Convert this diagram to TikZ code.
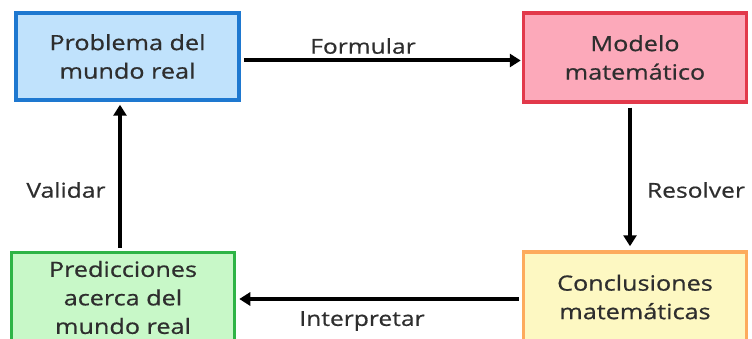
\documentclass[tikz,border=0pt]{standalone}
\usepackage{fontspec}
\setmainfont[FakeStretch=1.2,FakeBold=0.6]{Open Sans}
\usetikzlibrary{arrows.meta}

\definecolor{azulborde}{HTML}{1E78D0}
\definecolor{azulfondo}{HTML}{C0E2FC}
\definecolor{rojoborde}{HTML}{E2394B}
\definecolor{rojofondo}{HTML}{FCA9BA}
\definecolor{verdeborde}{HTML}{2EB446}
\definecolor{verdefondo}{HTML}{C8F8C8}
\definecolor{naranjaborde}{HTML}{FDAB5D}
\definecolor{amarillofondo}{HTML}{FDF8C2}
\definecolor{gristexto}{HTML}{2E2E2E}

\tikzset{
	caja/.style={draw, line width=3.5pt, minimum width=223pt, inner sep=0pt,
		align=center, text=gristexto, font=\fontsize{21}{28.5}\selectfont},
	flecha/.style={line width=4pt, -{Triangle[length=11pt,width=13pt]}},
	etiqueta/.style={text=gristexto, font=\fontsize{20.5}{24}\selectfont}
}

\begin{document}
\begin{tikzpicture}[x=1pt,y=-1pt]
\useasboundingbox (0,0) rectangle (752,339);

\node[caja, fill=azulfondo, draw=azulborde, minimum height=87pt] (problema) at (127.5,56.5) {Problema del\\mundo real};
\node[caja, fill=rojofondo, draw=rojoborde, minimum height=89pt] (modelo) at (635,57.5) {Modelo\\matemático};
\node[caja, fill=verdefondo, draw=verdeborde, minimum height=90pt] (predicciones) at (123,297.5) {Predicciones\\acerca del\\mundo real};
\node[caja, fill=amarillofondo, draw=naranjaborde, minimum height=90pt] (conclusiones) at (635,297) {Conclusiones\\matemáticas};

% ciclo
\draw[flecha, shorten <=3pt, shorten >=1pt] ([yshift=-4pt]problema.east) -- ([yshift=-4pt]problema.east -| modelo.west);
\draw[flecha, shorten <=4pt, shorten >=4pt] ([xshift=-5pt]modelo.south) -- ([xshift=-5pt]modelo.south |- conclusiones.north);
\draw[flecha, shorten <=3pt, shorten >=3pt] ([yshift=-2pt]conclusiones.west) -- ([yshift=-2pt]conclusiones.west -| predicciones.east);
\draw[flecha, shorten <=3pt, shorten >=3pt] ([xshift=-3pt]predicciones.north) -- ([xshift=-3pt]predicciones.north |- problema.south);

\node[etiqueta] (formular) at (363,46) {Formular};
\node[etiqueta] (resolver) at (696,190) {Resolver};
\node[etiqueta] (interpretar) at (362,321) {Interpretar};
\node[etiqueta] (validar) at (66,190) {Validar};
\end{tikzpicture}
\end{document}
